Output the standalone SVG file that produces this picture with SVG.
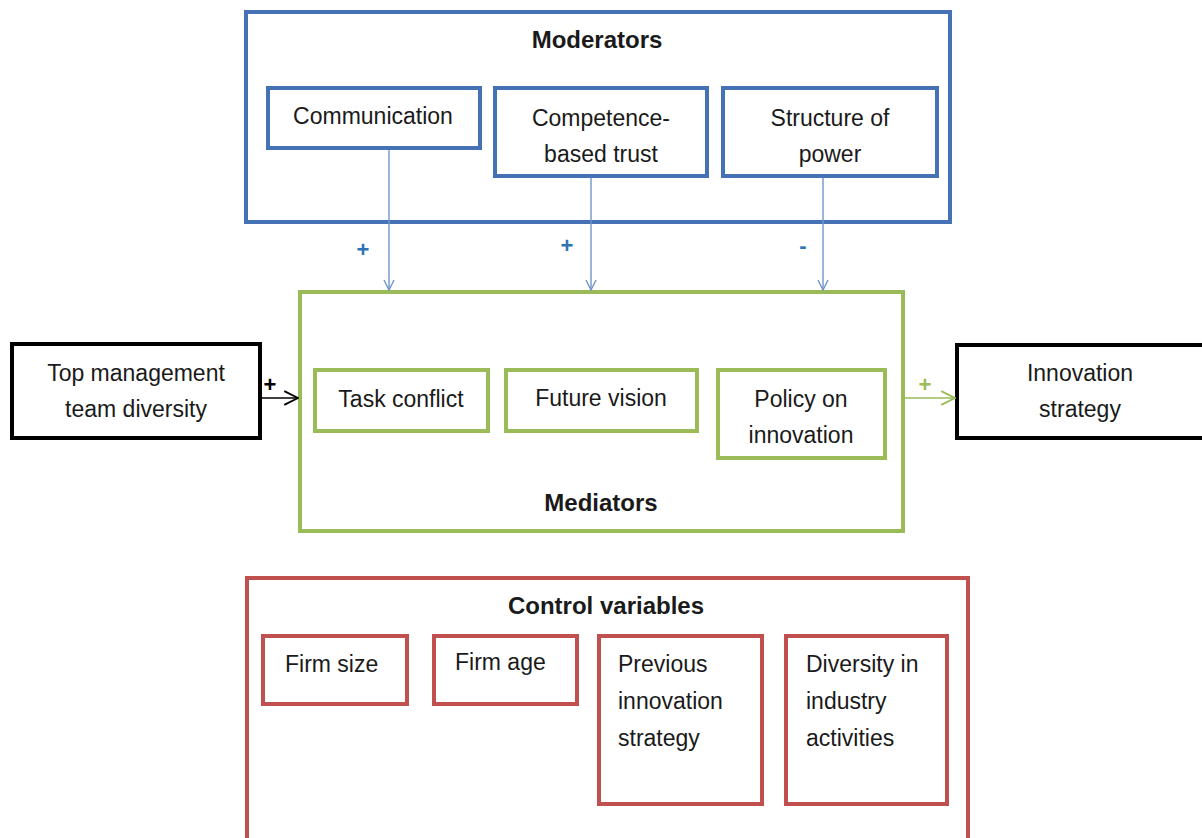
<svg xmlns="http://www.w3.org/2000/svg" width="1202" height="838" viewBox="0 0 1202 838">
  <defs>
    <style>
      text { font-family: "Liberation Sans", Arial, sans-serif; font-size: 23px; fill: #1a1a1a; }
      .c { text-anchor: middle; }
      .b { font-weight: bold; font-size: 24px; }
      .blue { fill: none; stroke: #4472b4; stroke-width: 4; }
      .green { fill: none; stroke: #9bbb59; stroke-width: 4; }
      .red { fill: none; stroke: #c0504d; stroke-width: 4; }
      .black { fill: #fff; stroke: #000; stroke-width: 4; }
      .sign { font-weight: bold; font-size: 22px; }
    </style>
    <marker id="ah-blue" viewBox="0 0 12 12" refX="11" refY="6" markerWidth="12" markerHeight="12" markerUnits="userSpaceOnUse" orient="auto">
      <path d="M1,1 L11,6 L1,11" fill="none" stroke="#6f95cc" stroke-width="1.4"/>
    </marker>
    <marker id="ah-black" viewBox="0 0 14 14" refX="13" refY="7" markerWidth="16" markerHeight="16" markerUnits="userSpaceOnUse" orient="auto">
      <path d="M1,1 L13,7 L1,13" fill="none" stroke="#000" stroke-width="1.6"/>
    </marker>
    <marker id="ah-green" viewBox="0 0 14 14" refX="13" refY="7" markerWidth="16" markerHeight="16" markerUnits="userSpaceOnUse" orient="auto">
      <path d="M1,1 L13,7 L1,13" fill="none" stroke="#9bbb59" stroke-width="1.6"/>
    </marker>
  </defs>

  <rect width="1202" height="838" fill="#fff"/>

  <!-- Moderators group -->
  <g id="moderators">
    <rect class="blue" x="246" y="12" width="704" height="210"/>
    <text class="c b" x="597" y="48">Moderators</text>
  </g>
  <g id="communication">
    <rect class="blue" x="268" y="88" width="212" height="60"/>
    <text class="c" x="373" y="124">Communication</text>
  </g>
  <g id="trust">
    <rect class="blue" x="495" y="88" width="212" height="88"/>
    <text class="c" x="601" y="126">Competence-</text>
    <text class="c" x="601" y="162">based trust</text>
  </g>
  <g id="power">
    <rect class="blue" x="723" y="88" width="214" height="88"/>
    <text class="c" x="830" y="126">Structure of</text>
    <text class="c" x="830" y="162">power</text>
  </g>

  <!-- Mediators group -->
  <g id="mediators">
    <rect class="green" x="300" y="292" width="603" height="239"/>
    <text class="c b" x="601" y="511">Mediators</text>
  </g>
  <g id="task-conflict">
    <rect class="green" x="315" y="370" width="173" height="61"/>
    <text class="c" x="401" y="407">Task conflict</text>
  </g>
  <g id="future-vision">
    <rect class="green" x="506" y="370" width="191" height="61"/>
    <text class="c" x="601" y="406">Future vision</text>
  </g>
  <g id="policy">
    <rect class="green" x="718" y="370" width="167" height="88"/>
    <text class="c" x="801" y="407">Policy on</text>
    <text class="c" x="801" y="443">innovation</text>
  </g>

  <!-- Independent and dependent variables -->
  <g id="tmt-diversity">
    <rect class="black" x="12" y="344" width="248" height="94"/>
    <text class="c" x="136" y="381">Top management</text>
    <text class="c" x="136" y="417">team diversity</text>
  </g>
  <g id="innovation-strategy">
    <rect class="black" x="957" y="345" width="250" height="93"/>
    <text class="c" x="1080" y="381">Innovation</text>
    <text class="c" x="1080" y="417">strategy</text>
  </g>

  <!-- Control variables group -->
  <g id="controls">
    <rect class="red" x="247" y="578" width="721" height="270"/>
    <text class="c b" x="606" y="614">Control variables</text>
  </g>
  <g id="firm-size">
    <rect class="red" x="263" y="636" width="144" height="68"/>
    <text x="285" y="672">Firm size</text>
  </g>
  <g id="firm-age">
    <rect class="red" x="434" y="636" width="143" height="68"/>
    <text x="455" y="670">Firm age</text>
  </g>
  <g id="previous-strategy">
    <rect class="red" x="599" y="636" width="163" height="168"/>
    <text x="618" y="672">Previous</text>
    <text x="618" y="709">innovation</text>
    <text x="618" y="746">strategy</text>
  </g>
  <g id="industry-diversity">
    <rect class="red" x="786" y="636" width="161" height="168"/>
    <text x="806" y="672">Diversity in</text>
    <text x="806" y="709">industry</text>
    <text x="806" y="746">activities</text>
  </g>

  <!-- Connectors -->
  <g id="connectors" fill="none">
    <line x1="389" y1="150" x2="389" y2="290" stroke="#6f95cc" stroke-width="1.4" marker-end="url(#ah-blue)"/>
    <line x1="591" y1="178" x2="591" y2="290" stroke="#6f95cc" stroke-width="1.4" marker-end="url(#ah-blue)"/>
    <line x1="823" y1="178" x2="823" y2="290" stroke="#6f95cc" stroke-width="1.4" marker-end="url(#ah-blue)"/>
    <line x1="262" y1="398" x2="298" y2="398" stroke="#000" stroke-width="1.6" marker-end="url(#ah-black)"/>
    <line x1="905" y1="398" x2="955" y2="398" stroke="#9bbb59" stroke-width="1.6" marker-end="url(#ah-green)"/>
  </g>

  <!-- Connector signs -->
  <g id="signs">
    <text class="c sign" x="363" y="257" style="fill:#2e74b5">+</text>
    <text class="c sign" x="567" y="253" style="fill:#2e74b5">+</text>
    <text class="c sign" x="803" y="253" style="fill:#2e74b5">-</text>
    <text class="c sign" x="270" y="392" style="fill:#000">+</text>
    <text class="c sign" x="925" y="392" style="fill:#9bbb59">+</text>
  </g>
</svg>
